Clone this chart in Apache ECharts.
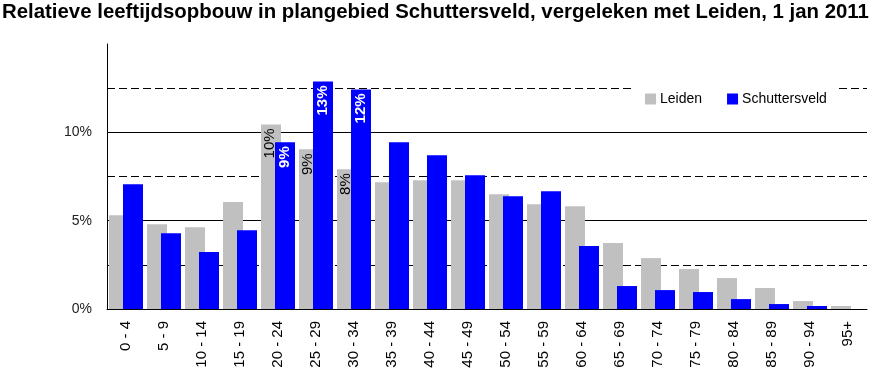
<!DOCTYPE html>
<html>
<head>
<meta charset="utf-8">
<script src="https://cdn.jsdelivr.net/npm/echarts@6/dist/echarts.min.js"></script>
<style>
  html, body {margin: 0; padding: 0; background: #fff;}
  #main {width: 877px; height: 378px;}
</style>
</head>
<body>
<div id="main"></div>
<script>
const ages = ['0 - 4', '5 - 9', '10 - 14', '15 - 19', '20 - 24', '25 - 29', '30 - 34', '35 - 39',
  '40 - 44', '45 - 49', '50 - 54', '55 - 59', '60 - 64', '65 - 69', '70 - 74', '75 - 79',
  '80 - 84', '85 - 89', '90 - 94', '95+'];
const leiden = [5.31, 4.80, 4.63, 6.05, 10.45, 9.04, 7.91, 7.18, 7.29, 7.29, 6.50, 5.93,
  5.82, 3.73, 2.88, 2.26, 1.75, 1.19, 0.45, 0.17];
const schuttersveld = [7.06, 4.29, 3.22, 4.46, 9.44, 12.88, 12.43, 9.44, 8.70, 7.57, 6.38, 6.67,
  3.56, 1.30, 1.07, 0.96, 0.56, 0.28, 0.17, 0];
// only these groups carry a value label
const labeled = ['20 - 24', '25 - 29', '30 - 34'];

const font = "'Liberation Sans', Arial, sans-serif";

const withLabels = (values) => values.map((v, i) =>
  labeled.includes(ages[i]) ? {value: v, label: {show: true}} : v);

const chart = echarts.init(document.getElementById('main'));
chart.setOption({
  animation: false,
  title: {
    text: 'Relatieve leeftijdsopbouw in plangebied Schuttersveld, vergeleken met Leiden, 1 jan 2011',
    left: 2,
    top: 2,
    padding: 0,
    textStyle: {fontFamily: font, fontSize: 20.4, fontWeight: 'bold', color: '#000'}
  },
  legend: {
    left: 632,
    top: 84,
    width: 220,
    padding: [8, 11, 10, 13],
    backgroundColor: '#fff',
    itemWidth: 11,
    itemHeight: 11,
    itemGap: 25,
    icon: 'rect',
    textStyle: {fontFamily: font, fontSize: 14, color: '#000', padding: [0, 0, 0, -1]},
    data: ['Leiden', 'Schuttersveld']
  },
  grid: {left: 107, right: 10, top: 44, bottom: 69, containLabel: false},
  xAxis: {
    type: 'category',
    data: ages,
    axisLine: {lineStyle: {color: '#000', width: 1}},
    axisTick: {show: false},
    axisLabel: {
      rotate: 90, margin: 12, interval: 0,
      fontFamily: font, fontSize: 15, color: '#000'
    }
  },
  yAxis: [
    {
      type: 'value', min: 0, max: 15, interval: 5,
      axisLine: {show: true, lineStyle: {color: '#000', width: 1}},
      axisTick: {show: false},
      axisLabel: {
        margin: 15, fontFamily: font, fontSize: 14, color: '#222',
        formatter: (v) => v === 15 ? '' : v + '%'
      },
      splitLine: {lineStyle: {color: ['#000', '#000', '#000', 'rgba(0,0,0,0)'], width: 1}}
    },
    {
      type: 'value', min: 0, max: 15, interval: 2.5, position: 'left',
      axisLine: {show: false}, axisTick: {show: false}, axisLabel: {show: false},
      splitLine: {lineStyle: {color: ['rgba(0,0,0,0)', '#000'], width: 1, type: [8, 4]}}
    }
  ],
  series: [
    {
      name: 'Leiden',
      type: 'bar',
      barWidth: 20,
      barGap: '-30%',
      itemStyle: {color: '#c0c0c0'},
      label: {
        show: false, position: 'insideTop', rotate: 90, distance: 4,
        align: 'right', verticalAlign: 'middle', offset: [0, -1],
        fontFamily: font, fontSize: 15, color: '#000',
        formatter: (p) => Math.round(p.value) + '%'
      },
      data: withLabels(leiden)
    },
    {
      name: 'Schuttersveld',
      type: 'bar',
      barWidth: 20,
      barGap: '-30%',
      itemStyle: {color: '#0000ff'},
      label: {
        show: false, position: 'insideTop', rotate: 90, distance: 4,
        align: 'right', verticalAlign: 'middle',
        fontFamily: font, fontSize: 15, fontWeight: 'bold', color: '#fff',
        formatter: (p) => Math.round(p.value) + '%'
      },
      data: withLabels(schuttersveld)
    }
  ]
});
</script>
</body>
</html>
